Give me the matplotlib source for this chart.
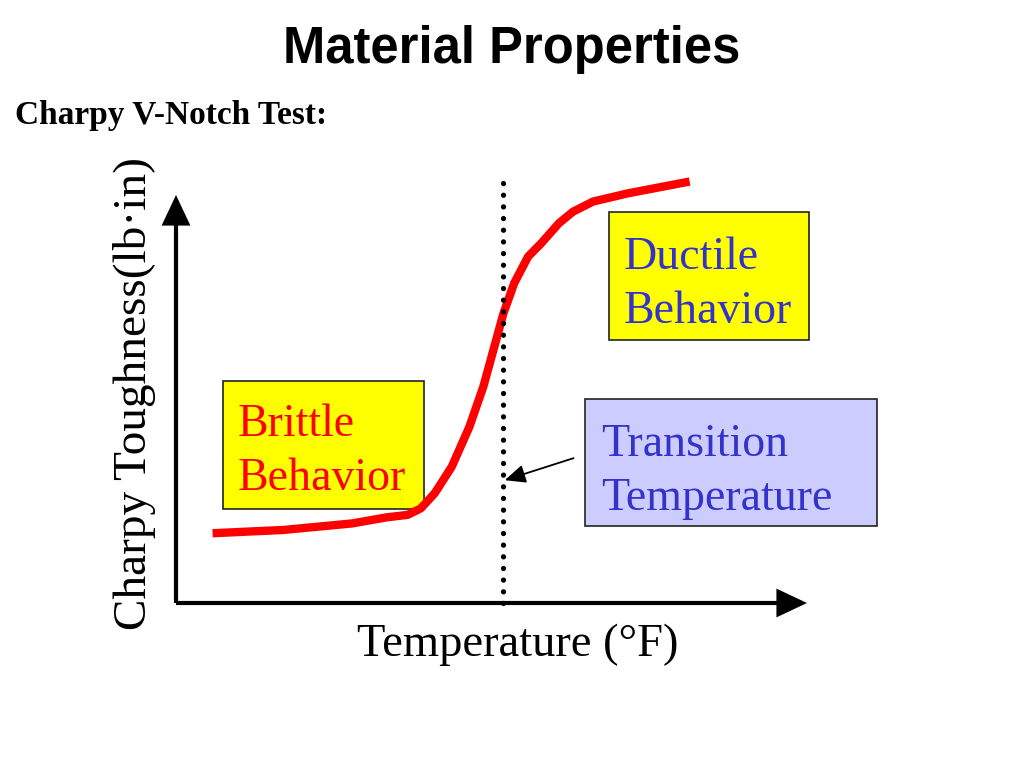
import matplotlib
matplotlib.use("Agg")
import matplotlib.pyplot as plt
from matplotlib.patches import Rectangle, FancyArrowPatch

# ---- data (arbitrary units: temperature 0-100, toughness 0-100) ----
temperature = [5.8, 17.0, 27.9, 33.4, 36.7, 38.8, 41.0, 43.7, 46.5, 48.7, 50.3,
               51.9, 53.6, 55.8, 57.9, 60.7, 62.9, 66.1, 71.6, 77.0, 81.4]
toughness = [17.1, 17.9, 19.5, 21.0, 21.6, 23.2, 26.9, 33.4, 43.2, 53.0, 62.0,
             71.0, 78.4, 84.9, 88.2, 93.1, 95.9, 98.4, 100.4, 102.0, 103.3]
transition_temp = 51.9
transition_range = [0.0, 102.9]

title = "Material Properties"
subtitle = "Charpy V-Notch Test:"
xlabel = "Temperature (\u00b0F)"
ylabel = "Charpy Toughness(lb\u00b7in)"
box_labels = ["Brittle\nBehavior", "Ductile\nBehavior", "Transition\nTemperature"]

W, H = 1024, 768
fig = plt.figure(figsize=(W / 100, H / 100), dpi=100)

# overlay axes in pixel coordinates for slide layout
ov = fig.add_axes([0, 0, 1, 1], zorder=0)
ov.set_xlim(0, W)
ov.set_ylim(H, 0)
ov.axis("off")

serif = "Liberation Serif"
blue = "#3333cc"

ov.text(512, 63, title, ha="center", va="baseline", fontsize=36.5,
        fontweight="bold", family="Liberation Sans")
ov.text(15, 124, subtitle, ha="left", va="baseline", fontsize=24,
        fontweight="bold", family=serif)

# boxes: (corner, width, height, face, text colour, text anchor of last baseline)
boxes = [
    ((223, 381), 201, 128, "#ffff00", "#ff0000", (238, 490)),
    ((609, 212), 200, 128, "#ffff00", blue, (624, 323)),
    ((585, 399), 292, 127, "#ccccff", blue, (601, 510)),
]
for (xy, w, h, fc, tc, txy), lab in zip(boxes, box_labels):
    ov.add_patch(Rectangle(xy, w, h, facecolor=fc, edgecolor="#222222", lw=1.2))
    ov.text(txy[0], txy[1], lab, ha="left", va="baseline", fontsize=33,
            color=tc, family=serif, linespacing=1.35)

ov.text(518, 656, xlabel, ha="center", va="baseline", fontsize=33.5, family=serif)
ov.text(134, 394, ylabel, ha="center", va="center", rotation=90, fontsize=34,
        family=serif)

# main data axes
ax = fig.add_axes([176 / W, (H - 603) / H, 631 / W, 408 / H], zorder=1)
ax.patch.set_visible(False)
ax.set_xlim(0, 100)
ax.set_ylim(0, 100)
ax.axis("off")

for end in [(1, 0), (0, 1)]:
    ax.add_patch(FancyArrowPatch((0, 0), end, transform=ax.transAxes,
                                 arrowstyle="-|>,head_length=1.7,head_width=0.8",
                                 mutation_scale=10, lw=3, color="black",
                                 shrinkA=0, shrinkB=0, clip_on=False,
                                 joinstyle="miter", capstyle="butt"))

ax.plot(temperature, toughness, color="#ff0000", lw=6, solid_capstyle="butt",
        solid_joinstyle="round", clip_on=False, zorder=3)

ax.plot([transition_temp, transition_temp], transition_range, color="black",
        lw=3.8, linestyle=(0, (0.01, 2.2)), dash_capstyle="round",
        clip_on=False, zorder=4)

ax.annotate("", xy=(transition_temp + 0.2, 30.1), xytext=(63.0, 35.5),
            arrowprops=dict(arrowstyle="-|>,head_length=0.9,head_width=0.4",
                            mutation_scale=14, lw=1.3, color="black",
                            shrinkA=0, shrinkB=0),
            annotation_clip=False, zorder=5)

fig.savefig("out.png", dpi=100)
